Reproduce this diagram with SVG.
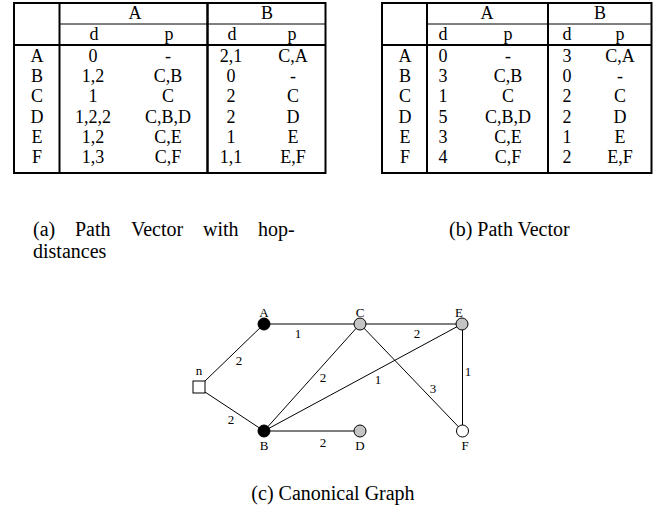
<svg xmlns="http://www.w3.org/2000/svg" width="667" height="516" viewBox="0 0 667 516">
<style>
.t{font-family:"Liberation Serif","Times New Roman",serif;font-size:18px;text-anchor:middle;fill:#000}
.cap{font-family:"Liberation Serif","Times New Roman",serif;font-size:20px;fill:#000}
.lb{font-family:"Liberation Serif","Times New Roman",serif;font-size:13px;text-anchor:middle;fill:#000}
.b{stroke:#000;stroke-width:2;fill:none}
.th{stroke:#000;stroke-width:1;fill:none}
.e{stroke:#000;stroke-width:1;fill:none}
.blk{fill:#000;stroke:#000;stroke-width:1}
.gry{fill:#c4c4c4;stroke:#000;stroke-width:1}
.wht{fill:#fff;stroke:#000;stroke-width:1}
</style>
<rect width="667" height="516" fill="#fff"/>

<g id="tableA">
<rect class="b" x="14" y="3" width="311.5" height="170"/>
<line class="b" x1="59.5" y1="3" x2="59.5" y2="173"/>
<line class="b" x1="207.5" y1="3" x2="207.5" y2="173" style="stroke-width:2.5"/>
<line class="th" x1="59.5" y1="24" x2="325.5" y2="24"/>
<line class="b" x1="14" y1="45" x2="325.5" y2="45"/>
<text class="t" x="135" y="19">A</text><text class="t" x="267" y="19">B</text>
<text class="t" x="94" y="40">d</text><text class="t" x="169" y="40">p</text>
<text class="t" x="232" y="40">d</text><text class="t" x="292" y="40">p</text>
<text class="t" x="37" y="62">A</text><text class="t" x="93" y="62">0</text><text class="t" x="168" y="62">-</text><text class="t" x="231" y="62">2,1</text><text class="t" x="293" y="62">C,A</text>
<text class="t" x="37" y="82">B</text><text class="t" x="93" y="82">1,2</text><text class="t" x="168" y="82">C,B</text><text class="t" x="231" y="82">0</text><text class="t" x="293" y="82">-</text>
<text class="t" x="37" y="102">C</text><text class="t" x="93" y="102">1</text><text class="t" x="168" y="102">C</text><text class="t" x="231" y="102">2</text><text class="t" x="293" y="102">C</text>
<text class="t" x="37" y="123">D</text><text class="t" x="93" y="123">1,2,2</text><text class="t" x="168" y="123">C,B,D</text><text class="t" x="231" y="123">2</text><text class="t" x="293" y="123">D</text>
<text class="t" x="37" y="143">E</text><text class="t" x="93" y="143">1,2</text><text class="t" x="168" y="143">C,E</text><text class="t" x="231" y="143">1</text><text class="t" x="293" y="143">E</text>
<text class="t" x="37" y="163">F</text><text class="t" x="93" y="163">1,3</text><text class="t" x="168" y="163">C,F</text><text class="t" x="231" y="163">1,1</text><text class="t" x="293" y="163">E,F</text>
</g>

<g id="tableB">
<rect class="b" x="382" y="3" width="269.5" height="170"/>
<line class="b" x1="427" y1="3" x2="427" y2="173"/>
<line class="b" x1="548" y1="3" x2="548" y2="173"/>
<line class="th" x1="427" y1="24" x2="651.5" y2="24"/>
<line class="b" x1="382" y1="45" x2="651.5" y2="45"/>
<text class="t" x="487" y="19">A</text><text class="t" x="600" y="19">B</text>
<text class="t" x="443" y="40">d</text><text class="t" x="508" y="40">p</text>
<text class="t" x="567" y="40">d</text><text class="t" x="620" y="40">p</text>
<text class="t" x="405" y="62">A</text><text class="t" x="443" y="62">0</text><text class="t" x="508" y="62">-</text><text class="t" x="567" y="62">3</text><text class="t" x="620" y="62">C,A</text>
<text class="t" x="405" y="82">B</text><text class="t" x="443" y="82">3</text><text class="t" x="508" y="82">C,B</text><text class="t" x="567" y="82">0</text><text class="t" x="620" y="82">-</text>
<text class="t" x="405" y="102">C</text><text class="t" x="443" y="102">1</text><text class="t" x="508" y="102">C</text><text class="t" x="567" y="102">2</text><text class="t" x="620" y="102">C</text>
<text class="t" x="405" y="123">D</text><text class="t" x="443" y="123">5</text><text class="t" x="508" y="123">C,B,D</text><text class="t" x="567" y="123">2</text><text class="t" x="620" y="123">D</text>
<text class="t" x="405" y="143">E</text><text class="t" x="443" y="143">3</text><text class="t" x="508" y="143">C,E</text><text class="t" x="567" y="143">1</text><text class="t" x="620" y="143">E</text>
<text class="t" x="405" y="163">F</text><text class="t" x="443" y="163">4</text><text class="t" x="508" y="163">C,F</text><text class="t" x="567" y="163">2</text><text class="t" x="620" y="163">E,F</text>
</g>

<g id="captions">
<text class="cap" x="33" y="236">(a)</text>
<text class="cap" x="75" y="236">Path</text>
<text class="cap" x="131" y="236">Vector</text>
<text class="cap" x="203" y="236">with</text>
<text class="cap" x="258" y="236">hop-</text>
<text class="cap" x="33" y="258">distances</text>
<text class="cap" x="449" y="236">(b) Path Vector</text>
<text class="cap" x="333" y="500" text-anchor="middle">(c) Canonical  Graph</text>
</g>

<g id="edges">
<line class="e" x1="205" y1="381" x2="264" y2="324"/>
<line class="e" x1="205" y1="392" x2="264" y2="431"/>
<line class="e" x1="264" y1="324" x2="360" y2="324"/>
<line class="e" x1="360" y1="324" x2="462" y2="324"/>
<line class="e" x1="264" y1="431" x2="360" y2="324"/>
<line class="e" x1="264" y1="431" x2="462" y2="324"/>
<line class="e" x1="360" y1="324" x2="462.5" y2="431"/>
<line class="e" x1="462.5" y1="324" x2="462.5" y2="431"/>
<line class="e" x1="264" y1="431" x2="360" y2="431"/>
<text class="lb" x="298" y="338">1</text>
<text class="lb" x="417" y="338">2</text>
<text class="lb" x="239" y="365">2</text>
<text class="lb" x="231" y="424">2</text>
<text class="lb" x="323" y="382">2</text>
<text class="lb" x="378" y="384">1</text>
<text class="lb" x="433" y="393">3</text>
<text class="lb" x="468" y="376">1</text>
<text class="lb" x="323" y="447">2</text>
</g>

<g id="node-n"><rect class="wht" x="193" y="381" width="12" height="12"/><text class="lb" x="199" y="375">n</text></g>
<g id="node-A"><circle class="blk" cx="264" cy="324" r="6"/><text class="lb" x="264" y="317">A</text></g>
<g id="node-C"><circle class="gry" cx="360" cy="324" r="6"/><text class="lb" x="360" y="317">C</text></g>
<g id="node-E"><circle class="gry" cx="462" cy="324" r="6"/><text class="lb" x="459" y="317">E</text></g>
<g id="node-B"><circle class="blk" cx="264" cy="431" r="6"/><text class="lb" x="264" y="450">B</text></g>
<g id="node-D"><circle class="gry" cx="360" cy="431" r="6"/><text class="lb" x="360" y="450">D</text></g>
<g id="node-F"><circle class="wht" cx="462.5" cy="431" r="6"/><text class="lb" x="465" y="450">F</text></g>
</svg>
